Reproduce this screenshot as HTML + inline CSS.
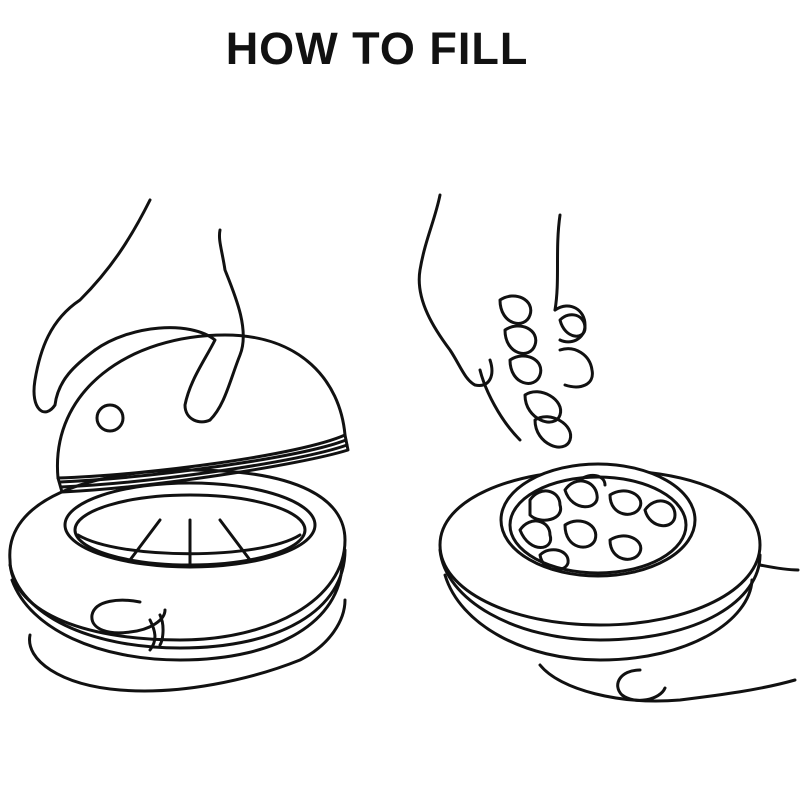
<!DOCTYPE html>
<html><head><meta charset="utf-8"><style>
html,body{margin:0;padding:0;background:#fff;}
svg{display:block;}
text{font-family:"Liberation Sans",sans-serif;font-weight:bold;}
</style></head><body>
<svg width="800" height="800" viewBox="0 0 800 800" xmlns="http://www.w3.org/2000/svg">
<text x="377" y="64" font-size="45" text-anchor="middle" fill="#111" letter-spacing="1">HOW TO FILL</text>
<g fill="none" stroke="#111" stroke-width="3" stroke-linecap="round" stroke-linejoin="round">
<!-- LEFT: container -->
<path d="M10,560 C5,500 90,470 190,470 C300,470 345,500 345,540 C345,600 270,640 180,640 C80,640 10,610 10,560 Z" fill="#fff"/>
<path d="M10,565 C20,615 90,648 180,648 C280,648 345,610 345,550"/>
<path d="M12,580 C30,630 100,660 180,660 C280,660 340,620 342,565"/>
<ellipse cx="190" cy="525" rx="125" ry="42" fill="#fff"/>
<ellipse cx="190" cy="530" rx="115" ry="35"/>
<path d="M78,535 C120,560 260,560 300,535"/>
<path d="M130,560 L160,520 M250,560 L220,520 M190,565 L190,520"/>
<!-- dome lid -->
<path d="M58,478 C50,390 130,335 225,335 C300,335 340,380 345,435 C300,455 150,475 58,478 Z" fill="#fff"/>
<path d="M58,478 L62,492 C150,488 300,465 348,450 L345,435"/>
<path d="M60,482 C150,478 300,458 346,440 M61,487 C150,483 300,462 347,445"/>
<circle cx="110" cy="418" r="13"/>
<!-- top hand left -->
<path d="M150,200 C130,240 110,270 80,300 C50,320 40,350 35,380 C30,410 45,420 55,405 C58,380 75,365 95,350"/>
<path d="M95,350 C130,325 190,320 215,340 C205,360 190,380 185,405 C185,420 200,425 210,420"/>
<path d="M210,420 C225,405 230,380 240,355 C250,330 235,295 225,270 C222,250 218,240 220,230"/>
<!-- bottom hand left -->
<path d="M30,635 C25,660 60,685 120,690 C180,695 250,680 300,660 C330,645 345,620 345,600"/>
<path d="M140,602 C120,598 95,600 92,615 C90,630 110,635 130,632 C150,630 165,620 165,610"/>
<path d="M150,620 C155,630 158,640 150,650 M160,615 C165,625 163,640 160,645"/>
<!-- RIGHT: container -->
<path d="M440,545 C440,500 510,470 600,470 C700,470 760,500 760,545 C760,590 690,625 600,625 C510,625 440,590 440,545 Z" fill="#fff"/>
<path d="M440,550 C445,600 515,640 600,640 C700,640 760,600 760,555"/>
<path d="M445,575 C460,625 525,660 600,660 C690,660 750,620 752,580"/>
<ellipse cx="598" cy="520" rx="97" ry="56" fill="#fff"/>
<ellipse cx="598" cy="525" rx="88" ry="48"/>
<!-- chips in bowl -->
<path d="M530,500 c10,-15 30,-10 30,5 c5,15 -20,20 -30,10 z"/>
<path d="M565,490 c10,-15 30,-10 32,5 c3,15 -25,18 -32,-5 z"/>
<path d="M610,495 c15,-10 35,0 30,12 c-5,12 -30,10 -30,-12 z"/>
<path d="M520,530 c10,-15 30,-10 30,5 c5,15 -20,20 -30,-5 z"/>
<path d="M565,525 c15,-10 35,0 30,15 c-5,12 -30,10 -30,-15 z"/>
<path d="M610,540 c15,-10 35,0 30,12 c-5,12 -30,10 -30,-12 z"/>
<path d="M645,510 c10,-15 30,-10 30,5 c0,15 -25,15 -30,-5 z"/>
<path d="M540,555 c10,-10 30,-5 28,8 c-3,10 -25,10 -28,-8 z"/>
<path d="M580,480 c10,-8 25,-5 25,5"/>
<!-- chips in hand -->
<path d="M500,300 c15,-10 35,0 30,15 c-5,15 -30,10 -30,-15 z"/>
<path d="M505,330 c15,-10 35,0 30,15 c-5,15 -30,10 -30,-15 z"/>
<path d="M510,360 c15,-10 35,0 30,15 c-5,15 -30,10 -30,-15 z"/>
<path d="M525,395 c15,-10 40,5 35,20 c-5,15 -35,5 -35,-20 z"/>
<path d="M535,420 c15,-10 40,5 35,20 c-5,15 -35,5 -35,-20 z"/>
<path d="M560,320 c10,-10 25,-5 25,8 c0,12 -20,12 -25,-8 z"/>
<!-- top hand right -->
<path d="M440,195 C435,220 425,240 420,270 C415,300 435,330 450,350 C460,365 465,380 475,385 C490,388 495,375 490,360"/>
<path d="M480,370 C485,390 500,420 520,440"/>
<path d="M560,215 C555,250 560,280 555,310"/>
<path d="M555,310 C570,300 585,310 585,325 C585,340 570,345 560,340"/>
<path d="M560,350 C575,345 590,355 592,370 C595,385 580,390 565,385"/>
<!-- bottom hand right -->
<path d="M540,665 C560,690 620,705 680,700 C720,695 760,690 795,680"/>
<path d="M760,565 C775,568 790,570 798,570"/>
<path d="M640,670 C620,670 612,685 622,695 C635,705 660,700 665,688"/>
</g>
</svg>
</body></html>
